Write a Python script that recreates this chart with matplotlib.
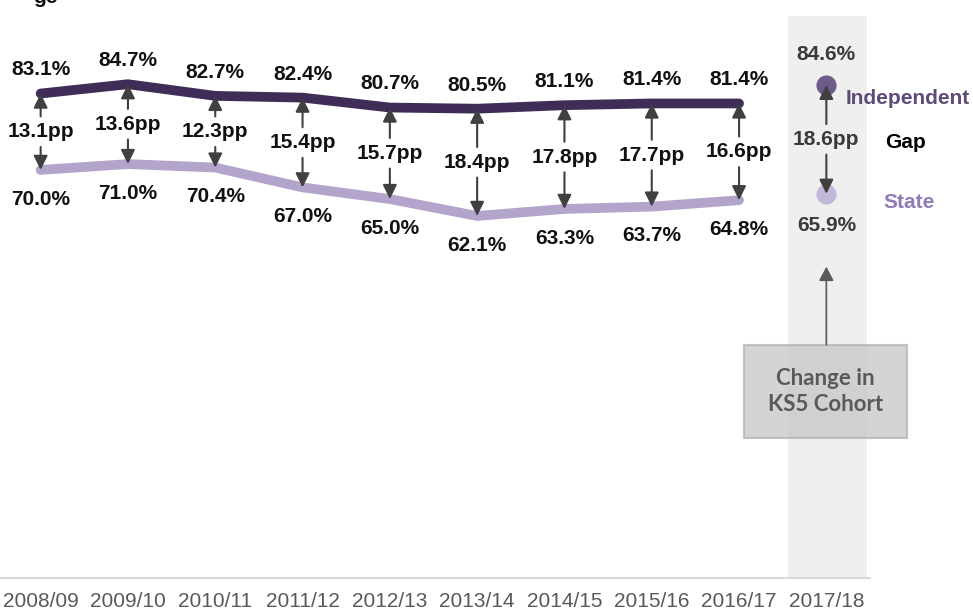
"""
Attainment gap chart: independent vs state, 2008/09 to 2017/18
"""
import matplotlib
matplotlib.use('Agg')
import matplotlib.pyplot as plt
from matplotlib.patches import Rectangle
import numpy as np

plt.rcParams['font.family'] = ['Liberation Sans', 'DejaVu Sans']

# data
years = ['2008/09', '2009/10', '2010/11', '2011/12', '2012/13',
         '2013/14', '2014/15', '2015/16', '2016/17', '2017/18']
independent = [83.1, 84.7, 82.7, 82.4, 80.7, 80.5, 81.1, 81.4, 81.4]
state = [70.0, 71.0, 70.4, 67.0, 65.0, 62.1, 63.3, 63.7, 64.8]
gaps = [13.1, 13.6, 12.3, 15.4, 15.7, 18.4, 17.8, 17.7, 16.6]
new_independent = 84.6
new_state = 65.9
new_gap = 18.6

# colours
c_ind = '#3f2d57'
c_state = '#b3a4cb'
c_ind_dot = '#6d5b8b'
c_state_dot = '#c4b8d8'
c_arrow = '#404040'
FS = 15

fig = plt.figure(figsize=(9.73, 6.1), dpi=100)
ax = fig.add_axes([-3 / 973, 32 / 610, 873 / 973, 562 / 610])
ax.set_xlim(-0.5, 9.5)
ax.set_ylim(0, 96.4)

# grey band behind the new cohort year
ax.axvspan(8.56, 9.47, color='#efefef', lw=0, zorder=0)

x = np.arange(len(independent))
ax.plot(x, independent, color=c_ind, lw=7, solid_capstyle='round',
        solid_joinstyle='round', zorder=2)
ax.plot(x, state, color=c_state, lw=7, solid_capstyle='round',
        solid_joinstyle='round', zorder=2)

arrow_kw = dict(arrowstyle='-|>,head_length=0.85,head_width=0.42',
                color=c_arrow, lw=1.5, shrinkA=11, shrinkB=0,
                mutation_scale=10)


def gap_arrows(xi, top, bottom, label, color):
    mid = (top + bottom) / 2
    ax.annotate('', xy=(xi, top), xytext=(xi, mid), arrowprops=arrow_kw, zorder=4)
    ax.annotate('', xy=(xi, bottom), xytext=(xi, mid), arrowprops=arrow_kw, zorder=4)
    ax.text(xi, mid, label, ha='center', va='center', fontsize=FS,
            fontweight='bold', color=color, zorder=5)


for i, (a, b, g) in enumerate(zip(independent, state, gaps)):
    ax.annotate(f'{a:.1f}%', xy=(i, a), xytext=(0, 17), textcoords='offset points',
                ha='center', va='center', fontsize=FS, fontweight='bold', color='#111111')
    ax.annotate(f'{b:.1f}%', xy=(i, b), xytext=(0, -21), textcoords='offset points',
                ha='center', va='center', fontsize=FS, fontweight='bold', color='#111111')
    gap_arrows(i, a, b, f'{g:.1f}pp', '#111111')

# 2017/18 point, shown separately
xi = len(years) - 1
ax.scatter([xi], [new_independent], s=210, color=c_ind_dot, lw=0, zorder=3)
ax.scatter([xi], [new_state], s=210, color=c_state_dot, lw=0, zorder=3)
gap_arrows(xi, new_independent, new_state, f'{new_gap:.1f}pp', '#3a3a3a')
ax.annotate(f'{new_independent:.1f}%', xy=(xi, new_independent), xytext=(0, 22),
            textcoords='offset points', ha='center', va='center', fontsize=FS,
            fontweight='bold', color='#3a3a3a')
ax.annotate(f'{new_state:.1f}%', xy=(xi, new_state), xytext=(0, -23),
            textcoords='offset points', ha='center', va='center', fontsize=FS,
            fontweight='bold', color='#3a3a3a')

# legend style labels on the right
ax.annotate('Independent', xy=(xi, new_independent), xytext=(14, -10),
            textcoords='offset points', ha='left', va='center', fontsize=FS,
            fontweight='bold', color='#5e4b78', annotation_clip=False)
ax.annotate('Gap', xy=(xi, (new_independent + new_state) / 2), xytext=(42, -2),
            textcoords='offset points', ha='left', va='center', fontsize=FS,
            fontweight='bold', color='#000000', annotation_clip=False)
ax.annotate('State', xy=(xi, new_state), xytext=(41, -6),
            textcoords='offset points', ha='left', va='center', fontsize=FS,
            fontweight='bold', color='#8e7bb8', annotation_clip=False)

# note box
box = Rectangle((8.06, 24.0), 1.86, 16.0, facecolor='#c4c4c4', alpha=0.72,
                edgecolor='#b0b0b0', lw=1.5, zorder=3, clip_on=False)
ax.add_patch(box)
ax.text(8.99, 32.0, 'Change in\nKS5 Cohort', ha='center', va='center',
        fontsize=16, fontweight='bold', color='#595959', linespacing=1.3,
        family=['Lato', 'DejaVu Sans'], zorder=4)
ax.annotate('', xy=(xi, 53.4), xytext=(xi, 40.0),
            arrowprops=dict(arrowstyle='-|>,head_length=0.85,head_width=0.45',
                            color='#595959', lw=1.2, shrinkA=0, shrinkB=0,
                            mutation_scale=10), zorder=4)

# axes styling
for side in ['top', 'left', 'right']:
    ax.spines[side].set_visible(False)
ax.spines['bottom'].set_color('#d9d9d9')
ax.spines['bottom'].set_linewidth(1.5)
ax.set_yticks([])
ax.set_xticks(np.arange(len(years)))
ax.set_xticklabels(years, fontsize=FS, color='#595959')
ax.tick_params(axis='x', length=0, pad=10)

# bottom of a cut-off title
fig.text(33 / 973, 1 - 3 / 610, 'ge', ha='left', va='baseline', fontsize=FS,
         fontweight='bold', color='#111111')

fig.savefig('out.png', dpi=100)
plt.close(fig)
